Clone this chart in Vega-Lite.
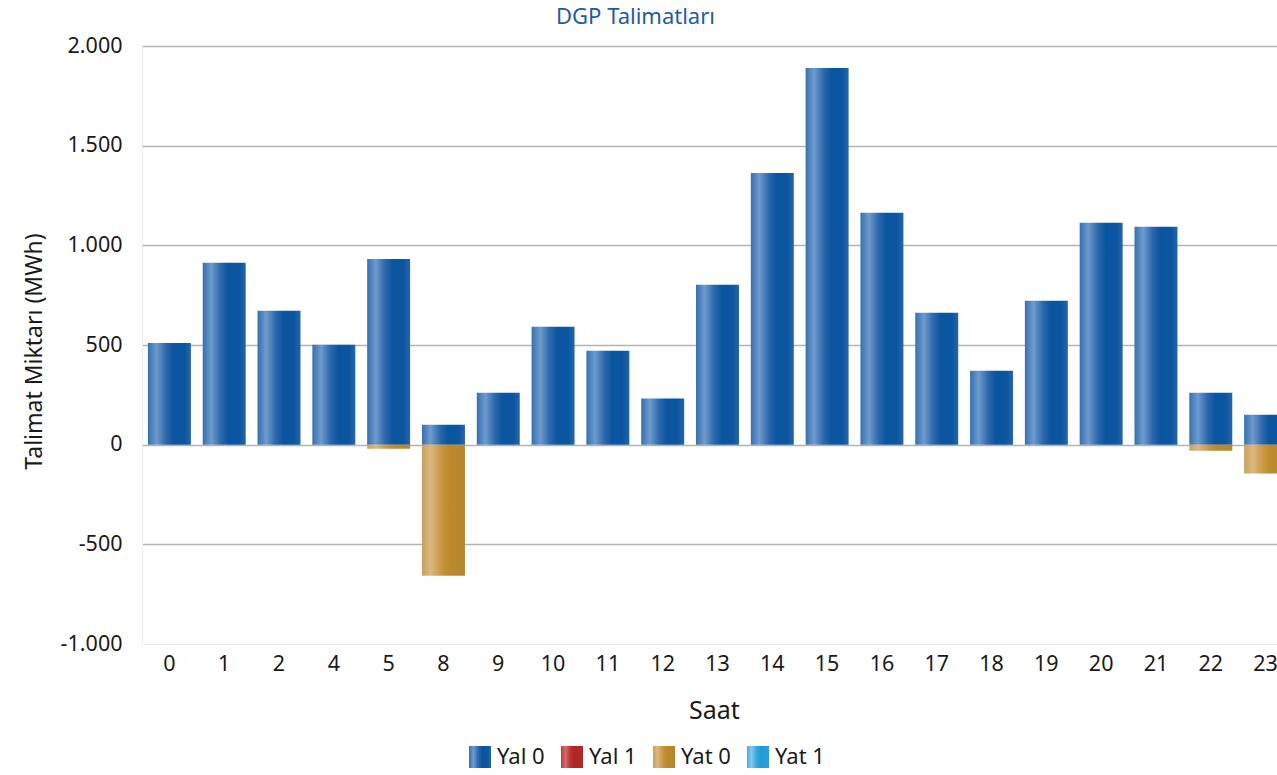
{
  "$schema": "https://vega.github.io/schema/vega-lite/v6.json",
  "width": 1135,
  "height": 598,
  "autosize": {"type": "none"},
  "padding": {"left": 142, "top": 46, "right": 0, "bottom": 131},
  "background": "white",
  "config": {"view": {"stroke": null}, "font": "Noto Sans"},
  "title": {"text": "DGP Talimatları", "color": "#1c5ca6", "fontSize": 22, "fontWeight": "normal", "anchor": "middle", "frame": "group", "dx": -74, "offset": 6},
  "data": {"values": [
    {"Saat": 0, "Seri": "Yal 0", "Miktar": 510},
    {"Saat": 1, "Seri": "Yal 0", "Miktar": 912},
    {"Saat": 2, "Seri": "Yal 0", "Miktar": 672},
    {"Saat": 4, "Seri": "Yal 0", "Miktar": 501},
    {"Saat": 5, "Seri": "Yal 0", "Miktar": 932},
    {"Saat": 5, "Seri": "Yat 0", "Miktar": -20},
    {"Saat": 8, "Seri": "Yal 0", "Miktar": 100},
    {"Saat": 8, "Seri": "Yat 0", "Miktar": -658},
    {"Saat": 9, "Seri": "Yal 0", "Miktar": 261},
    {"Saat": 10, "Seri": "Yal 0", "Miktar": 591},
    {"Saat": 11, "Seri": "Yal 0", "Miktar": 471},
    {"Saat": 12, "Seri": "Yal 0", "Miktar": 231},
    {"Saat": 13, "Seri": "Yal 0", "Miktar": 802},
    {"Saat": 14, "Seri": "Yal 0", "Miktar": 1363},
    {"Saat": 15, "Seri": "Yal 0", "Miktar": 1890},
    {"Saat": 16, "Seri": "Yal 0", "Miktar": 1163},
    {"Saat": 17, "Seri": "Yal 0", "Miktar": 662},
    {"Saat": 18, "Seri": "Yal 0", "Miktar": 371},
    {"Saat": 19, "Seri": "Yal 0", "Miktar": 722},
    {"Saat": 20, "Seri": "Yal 0", "Miktar": 1113},
    {"Saat": 21, "Seri": "Yal 0", "Miktar": 1093},
    {"Saat": 22, "Seri": "Yal 0", "Miktar": 261},
    {"Saat": 22, "Seri": "Yat 0", "Miktar": -30},
    {"Saat": 23, "Seri": "Yal 0", "Miktar": 150},
    {"Saat": 23, "Seri": "Yat 0", "Miktar": -145}
  ]},
  "mark": {"type": "bar", "strokeWidth": 0},
  "encoding": {
    "x": {
      "field": "Saat", "type": "ordinal",
      "scale": {"range": [0, 1151], "paddingInner": 0.216, "paddingOuter": 0.108},
      "axis": {"labelAngle": 0, "ticks": false, "domainColor": "#ececec", "labelFontSize": 21.5, "labelPadding": 9, "labelColor": "#1a1a1a", "title": "Saat", "titleFontSize": 25, "titleFontWeight": "normal", "titleColor": "#1a1a1a", "titleX": 572, "titleY": 66, "titleBaseline": "middle"}
    },
    "y": {
      "field": "Miktar", "type": "quantitative", "stack": "zero",
      "scale": {"domain": [-1000, 2000], "nice": false},
      "axis": {
        "values": [-1000, -500, 0, 500, 1000, 1500, 2000],
        "labelExpr": "replace(replace(replace(format(datum.value, ','), ',', '.'), '\u2212', '-'), ',', '.')",
        "ticks": false, "domainColor": "#ececec", "labelFontSize": 21.5, "labelPadding": 20, "labelColor": "#1a1a1a",
        "gridColor": {"condition": {"test": "datum.value === -1000", "value": "transparent"}, "value": "#b3b3b3"},
        "gridWidth": 1.5,
        "title": "Talimat Miktarı (MWh)", "titleFontSize": 23, "titleFontWeight": "normal", "titleColor": "#1a1a1a",
        "titleX": -108, "titleY": 305, "titleBaseline": "middle", "titleAlign": "center", "titleAngle": -90
      }
    },
    "color": {
      "field": "Seri", "type": "nominal",
      "scale": {
        "domain": ["Yal 0", "Yal 1", "Yat 0", "Yat 1"],
        "range": [
          {"expr": "{gradient: 'linear', x1: 0, y1: 0, x2: 1, y2: 0, stops: [{offset: 0, color: '#3570b2'}, {offset: 0.2, color: '#6e9bcb'}, {offset: 0.42, color: '#2c68ad'}, {offset: 0.6, color: '#0a55a0'}, {offset: 0.85, color: '#0c56a0'}, {offset: 1, color: '#2665aa'}]}"},
          {"expr": "{gradient: 'linear', x1: 0, y1: 0, x2: 1, y2: 0, stops: [{offset: 0, color: '#b93a3a'}, {offset: 0.2, color: '#d46c6c'}, {offset: 0.42, color: '#bb3333'}, {offset: 0.6, color: '#ad2424'}, {offset: 1, color: '#b02a2a'}]}"},
          {"expr": "{gradient: 'linear', x1: 0, y1: 0, x2: 1, y2: 0, stops: [{offset: 0, color: '#c9a15c'}, {offset: 0.2, color: '#dbb880'}, {offset: 0.45, color: '#c8973f'}, {offset: 0.62, color: '#bd8a2c'}, {offset: 1, color: '#b58530'}]}"},
          {"expr": "{gradient: 'linear', x1: 0, y1: 0, x2: 1, y2: 0, stops: [{offset: 0, color: '#44aee0'}, {offset: 0.2, color: '#7fc9ee'}, {offset: 0.45, color: '#36a7de'}, {offset: 0.62, color: '#1f9bd8'}, {offset: 1, color: '#2aa0da'}]}"}
        ]
      },
      "legend": {
        "orient": "none", "legendX": 327, "legendY": 700, "direction": "horizontal", "title": null,
        "symbolType": "square", "symbolSize": 484, "symbolStrokeWidth": 0,
        "labelFontSize": 22, "labelOffset": 6, "labelColor": "#1a1a1a", "columnPadding": 16
      }
    }
  }
}
